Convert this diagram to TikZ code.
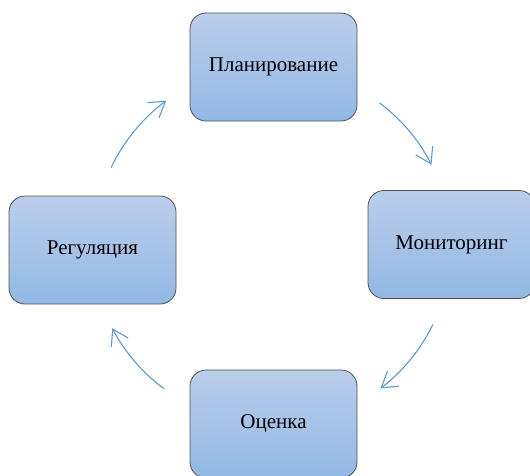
\documentclass[tikz,border=0pt]{standalone}
\usepackage{fontspec}
\setmainfont{Liberation Serif}
\usetikzlibrary{arrows.meta,calc}
\definecolor{boxtop}{RGB}{186,206,235}
\definecolor{boxbot}{RGB}{146,184,229}
\definecolor{boxline}{RGB}{80,80,80}
\definecolor{arrowblue}{RGB}{91,155,213}
\begin{document}
\begin{tikzpicture}[x=1pt,y=-1pt,
  stage/.style={draw=boxline,line width=0.8pt,rounded corners=16pt,top color=boxtop,bottom color=boxbot,
    minimum width=167pt,minimum height=108pt,inner sep=0pt,font=\fontsize{21}{24}\selectfont},
  cyc/.style={draw=arrowblue,line width=1.1pt,-{Straight Barb[length=15pt,width=19pt,line width=1.1pt]}}]
\useasboundingbox (0,0) rectangle (530,475);
\clip (0,0) rectangle (530,475);
\node[stage] (plan) at (273.5,67) {Планирование};
\node[stage] (mon) at (451.5,244.5) {Мониторинг};
\node[stage] (ocen) at (273.5,424) {Оценка};
\node[stage] (reg) at (92.5,250) {Регуляция};
\coordinate (c) at (272,246);
\coordinate (a1) at ($(c)+(-154:179)$);
\coordinate (a2) at ($(c)+(-53:179)$);
\coordinate (a3) at ($(c)+(26:179)$);
\coordinate (a4) at ($(c)+(127:179)$);
\draw[cyc] (a1) arc[start angle=-154.5,end angle=-126.5,radius=179];
\draw[cyc] (a2) arc[start angle=-53,end angle=-27,radius=179];
\draw[cyc] (a3) arc[start angle=26,end angle=52.7,radius=179];
\draw[cyc] (a4) arc[start angle=126.5,end angle=152.3,radius=179];
\end{tikzpicture}
\end{document}
